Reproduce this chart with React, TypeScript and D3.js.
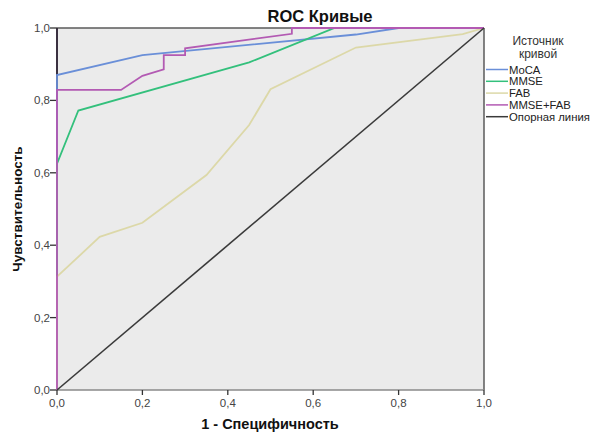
import * as d3 from "d3";

// ROC points: 1 - specificity (x) and sensitivity (y)
const mocaX = [0, 0, 0.2, 0.7, 0.8, 1];
const mocaY = [0, 0.87, 0.925, 0.982, 1, 1];

const mmseX = [0, 0, 0.05, 0.45, 0.65, 1];
const mmseY = [0, 0.625, 0.772, 0.905, 1, 1];

const fabX = [0, 0, 0.1, 0.2, 0.35, 0.45, 0.5, 0.7, 0.95, 1];
const fabY = [0, 0.313, 0.423, 0.462, 0.594, 0.732, 0.831, 0.946, 0.983, 1];

const comboX = [0, 0, 0.15, 0.2, 0.25, 0.25, 0.3, 0.3, 0.55, 0.55, 1];
const comboY = [0, 0.829, 0.829, 0.868, 0.886, 0.925, 0.925, 0.944, 0.984, 1, 1];

const refX = [0, 1];
const refY = [0, 1];

const ticks = [0, 0.2, 0.4, 0.6, 0.8, 1.0];

const seriesNames = ["MoCA", "MMSE", "FAB", "MMSE+FAB", "Опорная линия"];
const seriesColors = ["#6a8fd8", "#33c07c", "#dcd8a8", "#b35ab3", "#3a3a3a"];
const seriesXs = [mocaX, mmseX, fabX, comboX, refX];
const seriesYs = [mocaY, mmseY, fabY, comboY, refY];

const W = 592;
const H = 434;
const left = 57;
const right = 484;
const top = 28;
const bottom = 390;

const fmt = d3.formatLocale({ decimal: ",", thousands: " ", grouping: [3], currency: ["", ""] }).format(".1f");

export default function App() {
  const x = d3.scaleLinear().domain([0, 1]).range([left, right]);
  const y = d3.scaleLinear().domain([0, 1]).range([bottom, top]);

  const lineGen = d3
    .line<[number, number]>()
    .x((d) => x(d[0]))
    .y((d) => y(d[1]));

  const font = "'Liberation Sans', Arial, sans-serif";

  return (
    <svg
      width={W}
      height={H}
      style={{ position: "absolute", left: 0, top: 0, background: "#fff" }}
      fontFamily={font}
    >
      <rect x={left} y={top} width={right - left} height={bottom - top} fill="#ebebeb" />

      {/* frame */}
      <line x1={left} x2={right} y1={top} y2={top} stroke="#5a5a5a" strokeWidth={1.5} />
      <line x1={right} x2={right} y1={top} y2={bottom} stroke="#5a5a5a" strokeWidth={1.5} />
      <line x1={left} x2={right} y1={bottom} y2={bottom} stroke="#8a8a8a" strokeWidth={1.5} />
      <line x1={left} x2={left} y1={top} y2={bottom} stroke="#3a3040" strokeWidth={2} />

      {/* y axis */}
      {ticks.map((t) => (
        <g key={"y" + t}>
          <line x1={left - 7} x2={left} y1={y(t)} y2={y(t)} stroke="#333" strokeWidth={1.3} />
          <text x={left - 7} y={y(t) + 4} textAnchor="end" fontSize={11.5} fill="#444">
            {fmt(t)}
          </text>
        </g>
      ))}

      {/* x axis */}
      {ticks.map((t) => (
        <g key={"x" + t}>
          <line x1={x(t)} x2={x(t)} y1={bottom} y2={bottom + 5} stroke="#333" strokeWidth={1.3} />
          <text x={x(t)} y={bottom + 17} textAnchor="middle" fontSize={11.5} fill="#444">
            {fmt(t)}
          </text>
        </g>
      ))}

      {/* curves */}
      {seriesNames.map((name, i) => {
        const pts = seriesXs[i].map((v, j) => [v, seriesYs[i][j]] as [number, number]);
        return (
          <path
            key={name}
            d={lineGen(pts) || ""}
            fill="none"
            stroke={seriesColors[i]}
            strokeWidth={name === "Опорная линия" ? 1.6 : 1.8}
          />
        );
      })}

      {/* titles */}
      <text x={320} y={22} textAnchor="middle" fontSize={16.5} fontWeight="bold" fill="#111">
        ROC Кривые
      </text>
      <text x={270} y={429} textAnchor="middle" fontSize={14.5} fontWeight="bold" fill="#111">
        1 - Специфичность
      </text>
      <text
        transform={`translate(22,${(top + bottom) / 2}) rotate(-90)`}
        textAnchor="middle"
        fontSize={13.5}
        fontWeight="bold"
        fill="#111"
      >
        Чувствительность
      </text>

      {/* legend */}
      <text x={538} y={45} textAnchor="middle" fontSize={12} fill="#333">
        Источник
      </text>
      <text x={538} y={58} textAnchor="middle" fontSize={12} fill="#333">
        кривой
      </text>
      {seriesNames.map((name, i) => {
        const ly = 69.5 + i * 11.8;
        return (
          <g key={"lg" + name}>
            <line x1={486} x2={508} y1={ly} y2={ly} stroke={seriesColors[i]} strokeWidth={1.5} />
            <text x={509} y={ly + 4} fontSize={11.3} fill="#222">
              {name}
            </text>
          </g>
        );
      })}
    </svg>
  );
}
